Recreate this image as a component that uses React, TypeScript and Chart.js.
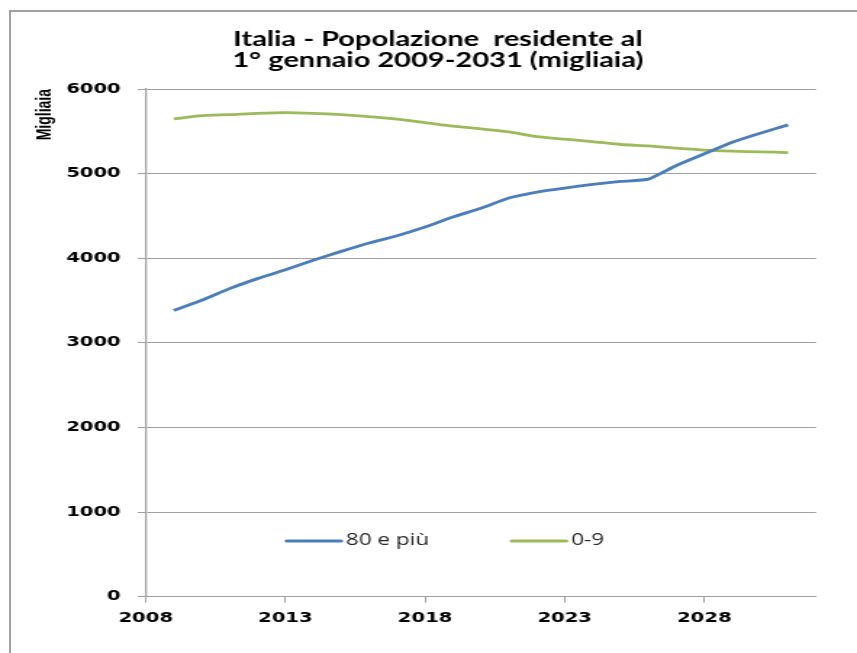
import React, { useEffect, useRef } from "react";
import { Chart, registerables } from "chart.js";

Chart.register(...registerables);

// ---- data ----
const years = [2009, 2010, 2011, 2012, 2013, 2014, 2015, 2016, 2017, 2018, 2019, 2020, 2021, 2022, 2023, 2024, 2025, 2026, 2027, 2028, 2029, 2030, 2031];
const over80 = [3382, 3503, 3641, 3759, 3865, 3975, 4081, 4180, 4266, 4369, 4487, 4590, 4711, 4782, 4829, 4872, 4907, 4935, 5096, 5234, 5371, 5478, 5576];
const age0to9 = [5646, 5685, 5697, 5713, 5721, 5713, 5697, 5674, 5643, 5603, 5560, 5530, 5493, 5438, 5407, 5379, 5344, 5328, 5301, 5277, 5265, 5257, 5249];
const seriesLabels = ["80 e più", "0-9"];
const xTickValues = [2008, 2013, 2018, 2023, 2028];
const titleLines = ["Italia - Popolazione  residente al", "1° gennaio 2009-2031 (migliaia)"];
const yAxisTitle = "Migliaia";

// ---- layout (the original picture is horizontally stretched) ----
const S = 1.45;
const W = 857 / S;
const H = 653;

const legendInArea = {
  id: "legendInArea",
  afterDraw(chart: any) {
    const ctx = chart.ctx;
    const { left, bottom } = chart.chartArea;
    let x = left + 97.2;
    const y = bottom - 55.7;
    ctx.save();
    ctx.font = "15.5px 'Open Sans'";
    ctx.textBaseline = "middle";
    ctx.textAlign = "left";
    chart.data.datasets.forEach((ds: any) => {
      ctx.strokeStyle = ds.borderColor;
      ctx.lineWidth = 3;
      ctx.lineCap = "round";
      ctx.beginPath();
      ctx.moveTo(x, y);
      ctx.lineTo(x + 37.5, y);
      ctx.stroke();
      ctx.fillStyle = "#262626";
      const tx = x + 37.5 + 3.4;
      ctx.fillText(ds.label, tx, y);
      x = tx + ctx.measureText(ds.label).width + 57;
    });
    ctx.restore();
  },
};

export default function App() {
  const ref = useRef<HTMLCanvasElement | null>(null);

  useEffect(() => {
    if (!ref.current) return;
    const chart = new Chart(ref.current, {
      type: "line",
      data: {
        datasets: [
          {
            label: seriesLabels[0],
            data: years.map((y, i) => ({ x: y, y: over80[i] })),
            borderColor: "#4a7ebb",
            backgroundColor: "#4a7ebb",
            borderWidth: 2.8,
            pointRadius: 0,
            tension: 0.15,
          },
          {
            label: seriesLabels[1],
            data: years.map((y, i) => ({ x: y, y: age0to9[i] })),
            borderColor: "#9bbb59",
            backgroundColor: "#9bbb59",
            borderWidth: 2.8,
            pointRadius: 0,
            tension: 0.2,
          },
        ],
      },
      options: {
        responsive: false,
        animation: false,
        layout: { padding: { left: 41.2, right: 28.2, top: 0, bottom: 0 } },
        plugins: {
          legend: { display: false },
          tooltip: { enabled: false },
          title: {
            display: true,
            text: titleLines,
            color: "#000",
            font: { family: "Lato", weight: "bold", size: 20, lineHeight: 1.05 },
            padding: { top: 29.5, bottom: 17.5 },
          },
        },
        scales: {
          x: {
            type: "linear",
            min: 2008,
            max: 2032,
            afterBuildTicks: (scale: any) => {
              scale.ticks = xTickValues.map((v) => ({ value: v }));
            },
            afterFit: (scale: any) => {
              scale.height = H - 596.7;
            },
            grid: { drawOnChartArea: false, drawTicks: true, tickLength: 6, color: "#a0a0a0" },
            border: { display: true, color: "#a0a0a0", width: 1 },
            ticks: {
              padding: 7.8,
              color: "#000",
              maxRotation: 0,
              autoSkip: false,
              font: { family: "'DejaVu Sans'", weight: "bold", size: 13.5 },
              callback: (v: any) => String(v),
            },
          },
          y: {
            type: "linear",
            min: 0,
            max: 6000,
            afterFit: (scale: any) => {
              scale.width = 100.5 - 41.2;
            },
            grid: { color: "#a0a0a0", lineWidth: 1, tickLength: 5.5 },
            border: { display: true, color: "#a0a0a0", width: 1.3 },
            ticks: {
              stepSize: 1000,
              padding: 11.8,
              color: "#000",
              font: { family: "'DejaVu Sans'", weight: "bold", size: 13.5 },
              callback: (v: any) => String(v),
            },
            title: {
              display: true,
              text: yAxisTitle,
              align: "end",
              color: "#000",
              font: { family: "'Liberation Sans'", weight: "bold", size: 14 },
              padding: { top: -18.4, bottom: 0 },
            },
          },
        },
      },
      plugins: [legendInArea],
    } as any);
    return () => chart.destroy();
  }, []);

  return (
    <div style={{ position: "fixed", left: 0, top: 0, width: 857, height: 653, overflow: "hidden", background: "#fff" }}>
      <div style={{ position: "absolute", left: 0, top: 0, width: W, height: H, transform: `scaleX(${S})`, transformOrigin: "0 0" }}>
        <canvas ref={ref} width={W} height={H} style={{ display: "block" }} />
      </div>
      <div
        style={{
          position: "absolute",
          left: 9,
          top: 10,
          width: 900,
          height: 700,
          borderLeft: "2px solid #a0a0a0",
          borderTop: "2px solid #a0a0a0",
          pointerEvents: "none",
        }}
      />
    </div>
  );
}
